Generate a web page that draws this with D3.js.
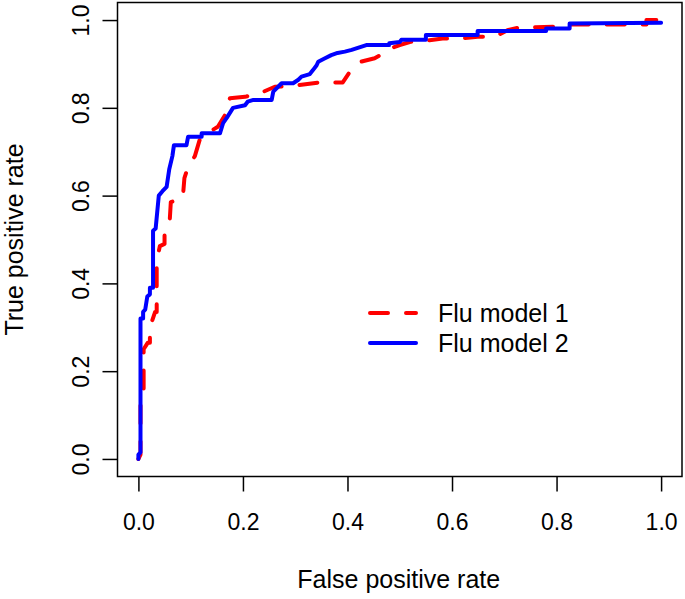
<!DOCTYPE html>
<html>
<head>
<meta charset="utf-8">
<script src="https://cdn.jsdelivr.net/npm/d3@7"></script>
<style>
  html, body { margin: 0; padding: 0; background: #fff; }
  svg { display: block; }
  text { font-family: "Liberation Sans", Arial, sans-serif; fill: #000; }
</style>
</head>
<body>
<svg id="chart" width="685" height="599"></svg>
<script>
// ---- Data ----
const seriesNames = ["Flu model 1", "Flu model 2"];
const seriesColors = ["#FF0000", "#0000FF"];

const model1FPR = [0, 0.004, 0.004, 0.01, 0.01, 0.018, 0.022, 0.022, 0.032, 0.035, 0.035, 0.035, 0.041, 0.05, 0.05, 0.06, 0.062, 0.085, 0.088, 0.095, 0.108, 0.118, 0.137, 0.152, 0.169, 0.175, 0.204, 0.232, 0.261, 0.295, 0.347, 0.391, 0.405, 0.425, 0.452, 0.475, 0.481, 0.50, 0.519, 0.557, 0.582, 0.618, 0.649, 0.682, 0.706, 0.729, 0.806, 0.82, 0.972, 0.972, 1];
const model1TPR = [0, 0.01, 0.14, 0.15, 0.25, 0.265, 0.265, 0.30, 0.335, 0.335, 0.41, 0.45, 0.485, 0.49, 0.515, 0.545, 0.585, 0.595, 0.64, 0.665, 0.69, 0.73, 0.746, 0.757, 0.79, 0.822, 0.825, 0.833, 0.848, 0.85, 0.858, 0.858, 0.883, 0.905, 0.913, 0.928, 0.935, 0.943, 0.95, 0.954, 0.958, 0.958, 0.962, 0.962, 0.977, 0.983, 0.985, 0.99, 0.99, 1.0, 1.0];

const model2FPR = [0, 0, 0.004, 0.004, 0.009, 0.009, 0.013, 0.017, 0.022, 0.022, 0.028, 0.028, 0.033, 0.039, 0.046, 0.054, 0.059, 0.065, 0.068, 0.092, 0.095, 0.121, 0.121, 0.156, 0.162, 0.169, 0.181, 0.204, 0.209, 0.22, 0.255, 0.258, 0.274, 0.296, 0.306, 0.312, 0.328, 0.334, 0.341, 0.344, 0.357, 0.369, 0.381, 0.395, 0.408, 0.436, 0.48, 0.48, 0.50, 0.503, 0.55, 0.55, 0.649, 0.649, 0.78, 0.78, 0.825, 0.825, 1];
const model2TPR = [0, 0.01, 0.015, 0.32, 0.32, 0.335, 0.34, 0.37, 0.375, 0.39, 0.39, 0.52, 0.525, 0.6, 0.61, 0.62, 0.66, 0.69, 0.715, 0.715, 0.734, 0.734, 0.742, 0.742, 0.765, 0.777, 0.80, 0.806, 0.814, 0.818, 0.818, 0.837, 0.856, 0.856, 0.864, 0.871, 0.877, 0.886, 0.897, 0.905, 0.913, 0.92, 0.925, 0.928, 0.932, 0.943, 0.943, 0.947, 0.95, 0.955, 0.955, 0.966, 0.966, 0.975, 0.975, 0.981, 0.981, 0.992, 0.994];

const xTicks = [0, 0.2, 0.4, 0.6, 0.8, 1.0];
const yTicks = [0, 0.2, 0.4, 0.6, 0.8, 1.0];
const xTitle = "False positive rate";
const yTitle = "True positive rate";

// ---- Layout ----
const svg = d3.select("#chart");
const box = { left: 117.5, right: 682, top: 2.5, bottom: 476.5 };

const x = d3.scaleLinear().domain([-0.04, 1.04]).range([box.left, box.right]);
const y = d3.scaleLinear().domain([-0.04, 1.04]).range([box.bottom, box.top]);

const series = [
  { name: seriesNames[0], color: seriesColors[0], dash: "18,18",
    pts: model1FPR.map((v, i) => [v, model1TPR[i]]) },
  { name: seriesNames[1], color: seriesColors[1], dash: null,
    pts: model2FPR.map((v, i) => [v, model2TPR[i]]) }
];

const line = d3.line().x(d => x(d[0])).y(d => y(d[1]));

// curves
const plotArea = svg.append("g");
series.forEach(s => {
  plotArea.append("path")
    .datum(s.pts)
    .attr("d", line)
    .attr("fill", "none")
    .attr("stroke", s.color)
    .attr("stroke-width", 4)
    .attr("stroke-linecap", "round")
    .attr("stroke-linejoin", "round")
    .attr("stroke-dasharray", s.dash);
});

// box
svg.append("rect")
  .attr("x", box.left).attr("y", box.top)
  .attr("width", box.right - box.left).attr("height", box.bottom - box.top)
  .attr("fill", "none").attr("stroke", "#000").attr("stroke-width", 1.5);

// x axis
const xAxis = d3.axisBottom(x).tickValues(xTicks).tickFormat(d3.format(".1f"))
  .tickSize(15).tickPadding(28);
const gx = svg.append("g").attr("transform", `translate(0,${box.bottom})`).call(xAxis);
gx.select(".domain").remove();
gx.selectAll(".tick line").attr("stroke", "#000").attr("stroke-width", 1.5);
gx.selectAll(".tick text")
  .attr("font-family", "Liberation Sans, Arial, sans-serif")
  .attr("font-size", 23).attr("fill", "#000")
  .attr("dy", null).attr("y", 53);

// y axis
const yAxis = d3.axisLeft(y).tickValues(yTicks).tickFormat(d3.format(".1f"))
  .tickSize(15);
const gy = svg.append("g").attr("transform", `translate(${box.left},0)`).call(yAxis);
gy.select(".domain").remove();
gy.selectAll(".tick line").attr("stroke", "#000").attr("stroke-width", 1.5);
gy.selectAll(".tick text")
  .attr("font-family", "Liberation Sans, Arial, sans-serif")
  .attr("font-size", 23).attr("fill", "#000")
  .attr("x", null).attr("dy", null)
  .attr("text-anchor", "middle")
  .attr("transform", `translate(-37,0) rotate(-90)`)
  .attr("y", 0)
  .attr("dominant-baseline", "central");

// axis titles
svg.append("text")
  .attr("x", (box.left + box.right) / 2 - 1)
  .attr("y", 588)
  .attr("text-anchor", "middle")
  .attr("font-size", 25)
  .text(xTitle);

svg.append("text")
  .attr("transform", `translate(23,${(box.top + box.bottom) / 2}) rotate(-90)`)
  .attr("text-anchor", "middle")
  .attr("font-size", 25)
  .text(yTitle);

// legend
const legend = svg.append("g");
series.forEach((s, i) => {
  const ly = 313 + i * 30;
  legend.append("line")
    .attr("x1", 370).attr("x2", 416)
    .attr("y1", ly).attr("y2", ly)
    .attr("stroke", s.color).attr("stroke-width", 4)
    .attr("stroke-linecap", "round")
    .attr("stroke-dasharray", s.dash);
  legend.append("text")
    .attr("x", 438).attr("y", ly)
    .attr("dominant-baseline", "central")
    .attr("font-size", 25)
    .text(s.name);
});
</script>
</body>
</html>
